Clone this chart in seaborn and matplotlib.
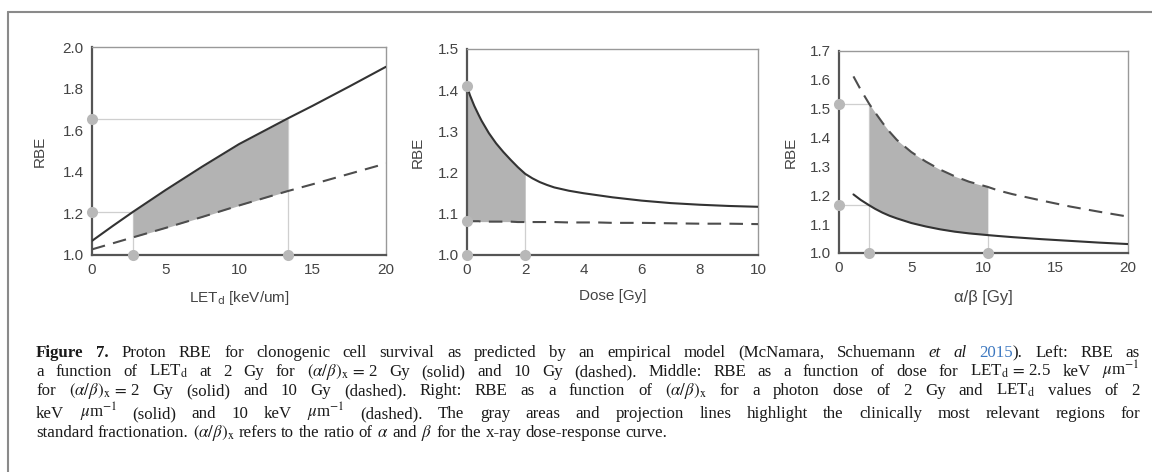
import numpy as np
import matplotlib
matplotlib.use("Agg")
import matplotlib.pyplot as plt
from matplotlib.lines import Line2D
import seaborn as sns

# --- data ---
let_x = np.array([0, 1.4, 2.8, 5, 7.5, 10, 13.3, 15, 17.5, 20])
let_solid = np.array([1.068, 1.139, 1.208, 1.312, 1.425, 1.533, 1.656, 1.717, 1.81, 1.905])
let_dashed = np.array([1.027, 1.056, 1.085, 1.13, 1.183, 1.238, 1.307, 1.34, 1.39, 1.44])
let_marks_x = [2.8, 13.3]
let_marks_y = [1.208, 1.656]

dose_x = np.array([0, 0.1, 0.25, 0.4, 0.5, 0.75, 1, 1.25, 1.5, 1.75, 2, 2.25, 2.5,
                   2.75, 3, 3.5, 4, 4.5, 5, 6, 7, 8, 9, 10])
dose_solid = np.array([1.41, 1.388, 1.362, 1.34, 1.326, 1.296, 1.271, 1.25, 1.231,
                       1.213, 1.197, 1.186, 1.177, 1.17, 1.164, 1.156, 1.15, 1.145,
                       1.14, 1.132, 1.126, 1.122, 1.119, 1.117])
dose_dashed = np.array([1.082, 1.082, 1.082, 1.082, 1.081, 1.081, 1.081, 1.081, 1.081,
                        1.08, 1.08, 1.08, 1.08, 1.08, 1.08, 1.079, 1.079, 1.079,
                        1.078, 1.078, 1.077, 1.076, 1.076, 1.075])
dose_marks_x = [2]
dose_marks_y = [1.41, 1.082]

ab_x = np.array([1, 1.5, 2.1, 2.5, 3, 3.5, 4, 5, 6, 7, 8, 9, 10.3, 11, 12, 14, 16, 18, 20])
ab_dashed = np.array([1.612, 1.566, 1.516, 1.487, 1.452, 1.42, 1.392, 1.35, 1.317,
                      1.289, 1.266, 1.247, 1.229, 1.217, 1.204, 1.182, 1.161, 1.143, 1.126])
ab_solid = np.array([1.203, 1.184, 1.165, 1.153, 1.14, 1.129, 1.12, 1.104, 1.092,
                     1.082, 1.074, 1.068, 1.062, 1.059, 1.055, 1.048, 1.042, 1.036, 1.031])
ab_marks_x = [2.1, 10.3]
ab_marks_y = [1.516, 1.165]

caption_lines = [
    [("Figure 7.", {"weight": "bold"}),
     (" Proton RBE for clonogenic cell survival as predicted by an empirical model (McNamara, Schuemann ", {}),
     ("et al", {"style": "italic"}),
     (" ", {}),
     ("2015", {"color": "#3d78c0"}),
     ("). Left: RBE as", {})],
    [(r"a function of LET$_\mathrm{d}$ at 2 Gy for $(\alpha/\beta)_\mathrm{x}\,=\,$2 Gy (solid) and 10 Gy (dashed). "
      r"Middle: RBE as a function of dose for LET$_\mathrm{d}\,=\,$2.5 keV $\mu$m$^{-1}$", {})],
    [(r"for $(\alpha/\beta)_\mathrm{x}\,=\,$2 Gy (solid) and 10 Gy (dashed). Right: RBE as a function of "
      r"$(\alpha/\beta)_\mathrm{x}$ for a photon dose of 2 Gy and LET$_\mathrm{d}$ values of 2", {})],
    [(r"keV $\mu$m$^{-1}$ (solid) and 10 keV $\mu$m$^{-1}$ (dashed). The gray areas and projection lines "
      r"highlight the clinically most relevant regions for", {})],
    [(r"standard fractionation. $(\alpha/\beta)_\mathrm{x}$ refers to the ratio of $\alpha$ and $\beta$ "
      r"for the x-ray dose-response curve.", {})],
]

sns.set_style("white")
plt.rcParams["font.family"] = ["Liberation Sans", "DejaVu Sans"]

LINE = "#333333"
DASH = "#4d4d4d"
FILL = "#b3b3b3"
DOT = "#b8b8b8"
PROJ = "#cfcfcf"
TXT = "#444444"
DASHES = (0, (6.5, 4))

fig = plt.figure(figsize=(11.52, 4.72), dpi=100)
W, H = 1152, 472


def make_axes(l, r, t, b):
    return fig.add_axes([l / W, 1 - b / H, (r - l) / W, (b - t) / H])


def style_axes(ax):
    for side in ["left", "bottom"]:
        ax.spines[side].set_color("#555555")
        ax.spines[side].set_linewidth(1.6)
    for side in ["top", "right"]:
        ax.spines[side].set_color("#999999")
        ax.spines[side].set_linewidth(1.0)
        ax.spines[side].set_visible(True)
    ax.tick_params(direction="in", length=3, width=0.8, color="#666666",
                   labelsize=11, labelcolor=TXT, pad=6)
    ax.grid(False)


def dots(ax, xs, ys):
    ax.plot(xs, ys, "o", color=DOT, ms=8, mec="none", clip_on=False, zorder=10)


fmt = matplotlib.ticker.FormatStrFormatter("%.1f")

# left panel: RBE vs LETd
ax1 = make_axes(92, 386, 47, 255)
style_axes(ax1)
m = (let_x >= let_marks_x[0]) & (let_x <= let_marks_x[1])
ax1.fill_between(let_x[m], let_dashed[m], let_solid[m], color=FILL, lw=0, zorder=1)
ax1.hlines(let_marks_y, 0, let_marks_x, color=PROJ, lw=0.9, zorder=0)
ax1.vlines(let_marks_x, 1.0, let_marks_y, color=PROJ, lw=0.9, zorder=0)
sns.lineplot(x=let_x, y=let_solid, ax=ax1, color=LINE, lw=1.5, zorder=3)
sns.lineplot(x=let_x, y=let_dashed, ax=ax1, color=DASH, lw=1.5, linestyle=DASHES, zorder=3)
dots(ax1, [0, 0], let_marks_y)
dots(ax1, let_marks_x, [1.0, 1.0])
ax1.set_xlim(0, 20)
ax1.set_ylim(1.0, 2.0)
ax1.set_xticks([0, 5, 10, 15, 20])
ax1.set_yticks([1.0, 1.2, 1.4, 1.6, 1.8, 2.0])
ax1.yaxis.set_major_formatter(fmt)
ax1.set_xlabel(r"LET$_\mathrm{d}$ [keV/um]", fontsize=11, color=TXT)
ax1.set_ylabel("RBE", fontsize=11, color=TXT)
ax1.xaxis.set_label_coords(0.5, -0.165)
ax1.yaxis.set_label_coords(-0.155, 0.5)

# middle panel: RBE vs dose
ax2 = make_axes(467, 758, 49, 255)
style_axes(ax2)
m = dose_x <= dose_marks_x[0]
ax2.fill_between(dose_x[m], dose_dashed[m], dose_solid[m], color=FILL, lw=0, zorder=1)
ax2.vlines(dose_marks_x, 1.0, dose_marks_y[1], color=PROJ, lw=0.9, zorder=0)
sns.lineplot(x=dose_x, y=dose_solid, ax=ax2, color=LINE, lw=1.5, zorder=3)
sns.lineplot(x=dose_x, y=dose_dashed, ax=ax2, color=DASH, lw=1.5, linestyle=DASHES, zorder=3)
dots(ax2, [0, 0, 0], dose_marks_y + [1.0])
dots(ax2, dose_marks_x, [1.0])
ax2.set_xlim(0, 10)
ax2.set_ylim(1.0, 1.5)
ax2.set_xticks([0, 2, 4, 6, 8, 10])
ax2.set_yticks([1.0, 1.1, 1.2, 1.3, 1.4, 1.5])
ax2.yaxis.set_major_formatter(fmt)
ax2.set_xlabel("Dose [Gy]", fontsize=11, color=TXT)
ax2.set_ylabel("RBE", fontsize=11, color=TXT)
ax2.xaxis.set_label_coords(0.5, -0.165)
ax2.yaxis.set_label_coords(-0.144, 0.5)

# right panel: RBE vs alpha/beta
ax3 = make_axes(839, 1128, 51, 253)
style_axes(ax3)
m = (ab_x >= ab_marks_x[0]) & (ab_x <= ab_marks_x[1])
ax3.fill_between(ab_x[m], ab_solid[m], ab_dashed[m], color=FILL, lw=0, zorder=1)
ax3.hlines(ab_marks_y, 0, ab_marks_x[0], color=PROJ, lw=0.9, zorder=0)
ax3.vlines(ab_marks_x, 1.0, [ab_marks_y[0], ab_solid[m][-1]], color=PROJ, lw=0.9, zorder=0)
sns.lineplot(x=ab_x, y=ab_solid, ax=ax3, color=LINE, lw=1.5, zorder=3)
sns.lineplot(x=ab_x, y=ab_dashed, ax=ax3, color=DASH, lw=1.5, linestyle=DASHES, zorder=3)
dots(ax3, [0, 0], ab_marks_y)
dots(ax3, ab_marks_x, [1.0, 1.0])
ax3.set_xlim(0, 20)
ax3.set_ylim(1.0, 1.7)
ax3.set_xticks([0, 5, 10, 15, 20])
ax3.set_yticks([1.0, 1.1, 1.2, 1.3, 1.4, 1.5, 1.6, 1.7])
ax3.yaxis.set_major_formatter(fmt)
ax3.set_xlabel("α/β [Gy]", fontsize=12, color=TXT)
ax3.set_ylabel("RBE", fontsize=11, color=TXT)
ax3.xaxis.set_label_coords(0.5, -0.185)
ax3.yaxis.set_label_coords(-0.142, 0.5)

# frame around figure + caption
fig.add_artist(Line2D([8 / W, 1], [1 - 12 / H] * 2, color="#8a8a8a", lw=1.5))
fig.add_artist(Line2D([8 / W] * 2, [1 - 12 / H, 0], color="#8a8a8a", lw=1.5))


def to_words(segs):
    words = [[]]
    for s, kw in segs:
        for i, p in enumerate(s.split(" ")):
            if i > 0:
                words.append([])
            if p:
                words[-1].append((p, kw))
    return [w for w in words if w]


# caption is justified like the reference: words spread between fixed margins
renderer = fig.canvas.get_renderer()
cap_size = 12.2
cap_left, cap_right = 36, 1140
baselines = [357, 376, 395, 418, 437]
for li, (segs, yb) in enumerate(zip(caption_lines, baselines)):
    placed = []
    for word in to_words(segs):
        pieces, wsum = [], 0.0
        for p, kw in word:
            opts = dict(fontsize=cap_size, family="Liberation Serif", color="#1a1a1a", va="baseline")
            opts.update(kw)
            t = fig.text(0, 1 - yb / H, p, math_fontfamily="stix", **opts)
            pieces.append((t, wsum))
            wsum += t.get_window_extent(renderer).width
        placed.append((pieces, wsum))
    total = sum(w for _, w in placed)
    if li < len(caption_lines) - 1:
        gap = (cap_right - cap_left - total) / (len(placed) - 1)
    else:
        gap = cap_size * 100 / 72 * 0.25
    x = cap_left
    for pieces, wsum in placed:
        for t, off in pieces:
            t.set_x((x + off) / W)
        x += wsum + gap

fig.savefig("out.png", dpi=100, facecolor="white")
